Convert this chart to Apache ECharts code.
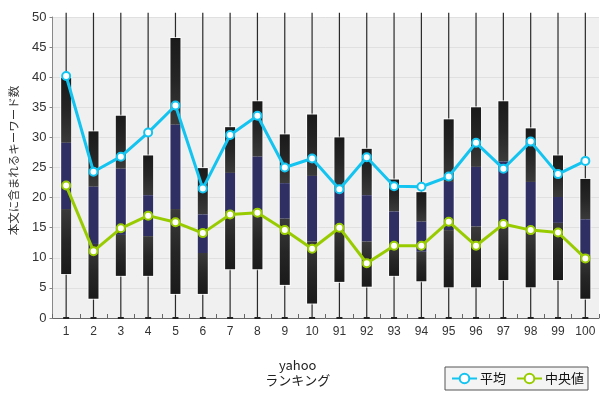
<!DOCTYPE html>
<html>
<head>
<meta charset="utf-8">
<script src="https://cdn.jsdelivr.net/npm/echarts@6/dist/echarts.min.js"></script>
<style>
  html, body { margin: 0; padding: 0; background: #fff; }
  #chart { width: 600px; height: 397px; }
</style>
</head>
<body>
<div id="chart"></div>
<script>
// ランキング順位
const categories = ['1','2','3','4','5','6','7','8','9','10','91','92','93','94','95','96','97','98','99','100'];
// 箱の下端・紺色部分の下端/上端・箱の上端
const boxLow   = [7.3, 3.2, 7.0, 7.0, 4.0, 4.0, 8.1, 8.1, 5.5, 2.4, 6.0, 5.2, 7.0, 6.1, 5.1, 5.1, 6.3, 5.1, 6.3, 3.2];
const navyLow  = [18.1, 12.3, 13.8, 13.6, 18.1, 10.8, 17.7, 17.9, 16.5, 12.7, 15.4, 12.7, 12.1, 11.0, 14.6, 15.2, 15.4, 14.3, 15.8, 10.5];
const navyHigh = [29.1, 21.8, 24.8, 20.4, 32.1, 17.2, 24.1, 26.8, 22.4, 23.6, 21.3, 20.4, 17.7, 16.0, 22.6, 25.1, 26.0, 22.6, 20.1, 16.4];
const boxHigh  = [39.9, 31.0, 33.6, 27.0, 46.5, 24.9, 31.7, 36.0, 30.5, 33.8, 30.0, 28.1, 23.0, 20.9, 33.0, 35.0, 36.0, 31.5, 27.0, 23.1];
// ひげ（最小・最大）
const whiskerMin = [0, 0, 0, 0, 0, 0, 0, 0, 0, 0, 0, 0, 0, 0, 0, 0, 0, 0, 0, 0];
const whiskerMax = [50.7, 50.7, 50.7, 50.7, 50.7, 50.7, 50.7, 50.7, 50.7, 50.7, 50.7, 50.7, 50.7, 50.7, 50.7, 50.7, 50.7, 50.7, 50.7, 50.7];
// 平均・中央値
const meanVals   = [40.2, 24.3, 26.8, 30.8, 35.3, 21.5, 30.4, 33.6, 25.0, 26.5, 21.4, 26.7, 21.9, 21.8, 23.5, 29.1, 24.8, 29.3, 23.9, 26.1];
const medianVals = [22.0, 11.1, 14.9, 17.0, 15.9, 14.1, 17.2, 17.5, 14.6, 11.5, 15.0, 9.1, 12.0, 12.0, 16.0, 12.0, 15.6, 14.6, 14.2, 9.9];
const yTicks = [0, 5, 10, 15, 20, 25, 30, 35, 40, 45, 50];

const chart = echarts.init(document.getElementById('chart'));

const boxData = categories.map((c, i) => [i, boxLow[i], navyLow[i], navyHigh[i], boxHigh[i], whiskerMin[i], whiskerMax[i]]);

function renderBox(params, api) {
  const i = api.value(0);
  const x = api.coord([i, 0])[0];
  const yOf = v => api.coord([i, v])[1];
  const w = 10;
  const lo = yOf(api.value(1)), nb = yOf(api.value(2)), nt = yOf(api.value(3)), hi = yOf(api.value(4));
  const wMin = yOf(api.value(5)), wMax = yOf(api.value(6));
  const darkUp = new echarts.graphic.LinearGradient(0, 0, 0, 1, [
    { offset: 0, color: '#1a1a1a' }, { offset: 0.5, color: '#262626' }, { offset: 1, color: '#3a3a3a' }
  ]);
  const darkDown = new echarts.graphic.LinearGradient(0, 0, 0, 1, [
    { offset: 0, color: '#3a3a3a' }, { offset: 0.5, color: '#262626' }, { offset: 1, color: '#1a1a1a' }
  ]);
  return {
    type: 'group',
    children: [
      { type: 'line', shape: { x1: x, y1: wMin, x2: x, y2: wMax }, style: { stroke: '#2a2a2a', lineWidth: 1.2 } },
      { type: 'line', shape: { x1: x - 3, y1: wMin, x2: x + 3, y2: wMin }, style: { stroke: '#222', lineWidth: 2 } },
      { type: 'rect', shape: { x: x - w / 2 - 1, y: hi - 1, width: w + 2, height: lo - hi + 2 }, style: { fill: 'rgba(255,255,255,0.7)' } },
      { type: 'rect', shape: { x: x - w / 2, y: hi, width: w, height: nt - hi }, style: { fill: darkUp } },
      { type: 'rect', shape: { x: x - w / 2, y: nt, width: w, height: nb - nt }, style: { fill: '#2f2f64' } },
      { type: 'rect', shape: { x: x - w / 2, y: nb, width: w, height: lo - nb }, style: { fill: darkDown } }
    ]
  };
}

const option = {
  animation: false,
  textStyle: { fontFamily: 'Liberation Sans, Noto Sans CJK JP, sans-serif' },
  grid: {
    left: 49, right: 1, top: 17, bottom: 79,
    show: true, backgroundColor: '#f0f0f0', borderWidth: 0
  },
  legend: {
    data: ['平均', '中央値'],
    orient: 'horizontal',
    left: 445, top: 367,
    width: 150,
    padding: [5, 4, 5, 6],
    itemGap: 10,
    itemWidth: 25, itemHeight: 12,
    backgroundColor: '#f4f4f4',
    borderColor: '#555', borderWidth: 1,
    textStyle: { fontSize: 13, color: '#111', fontFamily: 'Noto Sans CJK JP', padding: [0, 0, 0, -2] }
  },
  xAxis: {
    type: 'category',
    data: categories,
    name: 'yahoo\nランキング',
    nameLocation: 'middle',
    nameGap: 40,
    nameTextStyle: { fontSize: 13, color: '#222', lineHeight: 15, fontFamily: 'Noto Sans CJK JP', padding: [0, 56, 0, 0] },
    axisLine: { lineStyle: { color: '#666', width: 1 } },
    axisTick: { show: true, inside: true, length: 4, lineStyle: { color: '#666' } },
    axisLabel: { fontSize: 12, color: '#333', margin: 8 }
  },
  yAxis: {
    type: 'value',
    min: yTicks[0], max: yTicks[yTicks.length - 1], interval: 5,
    name: '本文に含まれるキーワード数',
    nameLocation: 'middle',
    nameGap: 33,
    nameTextStyle: { fontSize: 11.5, color: '#333', fontFamily: 'Noto Sans CJK JP', padding: [0, 0, 0, 14] },
    axisLine: { show: true, lineStyle: { color: '#888', width: 1 } },
    axisTick: { show: true, length: 3, lineStyle: { color: '#888' } },
    axisLabel: { fontSize: 13, color: '#333', margin: 6 },
    splitLine: { lineStyle: { color: '#e0e0e0', width: 1 } }
  },
  series: [
    {
      name: 'box',
      type: 'custom',
      renderItem: renderBox,
      encode: { x: 0, y: [1, 4] },
      data: boxData,
      clip: false,
      z: 2
    },
    {
      name: '平均',
      type: 'line',
      data: meanVals,
      symbol: 'circle',
      symbolSize: 8,
      lineStyle: { color: '#14c4f0', width: 3 },
      itemStyle: { color: '#ffffff', borderColor: '#14c4f0', borderWidth: 2 },
      z: 4
    },
    {
      name: '中央値',
      type: 'line',
      data: medianVals,
      symbol: 'circle',
      symbolSize: 8,
      lineStyle: { color: '#99cc00', width: 3 },
      itemStyle: { color: '#ffffff', borderColor: '#99cc00', borderWidth: 2 },
      z: 4
    }
  ]
};

chart.setOption(option);
</script>
</body>
</html>
